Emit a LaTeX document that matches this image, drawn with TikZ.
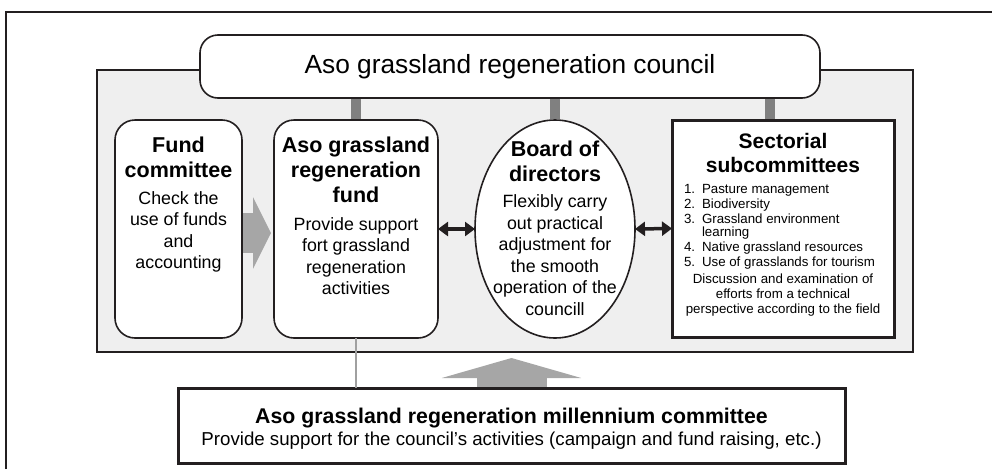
\documentclass[tikz,border=0pt]{standalone}
\usepackage{fontspec}
\setmainfont{Liberation Sans}
\usetikzlibrary{arrows.meta, positioning, shapes.geometric}
\definecolor{panelgray}{HTML}{EFEFEF}
\definecolor{bargray}{HTML}{808080}
\definecolor{arrowgray}{HTML}{A6A6A6}
\definecolor{thingray}{HTML}{A0A0A0}
\definecolor{darkline}{HTML}{231F20}

\begin{document}
\begin{tikzpicture}[
      x=1pt, y=-1pt,
      >={Triangle[length=10pt, width=14pt]},
      every node/.append style={inner sep=0pt, outer sep=0pt},
      panel/.style={rectangle, draw=darkline, line width=2.5pt, fill=panelgray},
      rbox/.style={rectangle, rounded corners=20pt, draw=darkline, line width=1.6pt,
                   fill=white},
      sbox/.style={rectangle, draw=darkline, line width=3pt, fill=white},
      oval/.style={ellipse, draw=darkline, line width=1.6pt, fill=white},
      head/.style={font=\fontsize{21.5}{25}\selectfont\bfseries, align=center},
      body/.style={font=\fontsize{17.8}{21.5}\selectfont, align=center},
      small/.style={font=\fontsize{13.3}{15}\selectfont},
      bar/.style={draw=bargray, line width=10pt, shorten <=0.8pt, shorten >=0.8pt},
    ]
      \useasboundingbox (0,0) rectangle (992,469);
      \draw[darkline, line width=1.3pt] (6,469) -- (6,12) -- (992,12);

      % grey panel and council on top
      \node[panel, minimum width=816pt, minimum height=282pt] (panel) at (505,211) {};
      \node[rbox, rounded corners=18pt, minimum width=620pt, minimum height=63pt,
            font=\fontsize{26.3}{30}\selectfont] (council) at (510,66.5)
            {Aso grassland regeneration council};

      % the four bodies
      \node[rbox, minimum width=127pt, minimum height=218pt] (fc) at (178.5,229) {};
      \node[rbox, minimum width=164pt, minimum height=218pt] (fund) at (356,229) {};
      \node[oval, minimum width=160pt, minimum height=218pt] (board) at (555,229) {};
      \node[sbox, minimum width=222pt, minimum height=217pt] (sect) at (783,228.5) {};

      \node[head, below=16.5pt of fc.north] (fctitle) {Fund\\committee};
      \node[body, below=14pt of fctitle] (fctext) {Check the\\use of funds\\and\\accounting};

      \node[head, below=16.5pt of fund.north] (fundtitle) {Aso grassland\\regeneration\\fund};
      \node[body, below=15pt of fundtitle] (fundtext)
            {Provide support\\fort grassland\\regeneration\\activities};

      \node[head, below=21pt of board.north] (boardtitle) {Board of\\directors};
      \node[body, below=13pt of boardtitle] (boardtext)
            {Flexibly carry\\out practical\\adjustment for\\the smooth\\operation of the\\councill};

      \node[head, font=\fontsize{21}{24}\selectfont\bfseries, below=13pt of sect.north]
            (secttitle) {Sectorial\\subcommittees};
      \node[small, align=left, anchor=north west] (sectlist)
            at ([xshift=12pt, yshift=-12pt]sect.west |- secttitle.south)
            {\makebox[18pt][l]{1.}Pasture management\\
             \makebox[18pt][l]{2.}Biodiversity\\
             \makebox[18pt][l]{3.}Grassland environment\\[-2pt]
             \hspace*{18pt}learning\\
             \makebox[18pt][l]{4.}Native grassland resources\\
             \makebox[18pt][l]{5.}Use of grasslands for tourism};
      \node[small, align=center, anchor=north] (sectnote)
            at ([yshift=-5pt]sectlist.south -| sect.center)
            {Discussion and examination of\\efforts from a technical\\perspective according to the field};

      % millennium committee
      \node[sbox, minimum width=667pt, minimum height=75pt] (mill) at (511.5,425.5) {};
      \node[align=center, font=\fontsize{18.7}{22}\selectfont] (milltext)
            at ([yshift=-2.8pt]mill.center)
            {{\fontsize{21.3}{22}\selectfont\bfseries Aso grassland regeneration millennium committee}\\
             {\fontsize{18.7}{22}\selectfont Provide support for the council’s activities (campaign and fund raising, etc.)}};

      % links
      \draw[bar] (fund.north |- council.south) -- (fund.north);
      \draw[bar] (board.north |- council.south) -- (board.north);
      \draw[bar] ([xshift=-13pt]sect.north |- council.south) -- ([xshift=-13pt]sect.north);
      \draw[<->, darkline, line width=3.5pt] (fund.east) -- (board.west);
      \draw[<->, darkline, line width=3.5pt] (board.east) -- (sect.west);
      \draw[arrowgray, line width=40pt, -{Triangle[length=18pt, width=71pt]},
            shorten <=0.8pt, shorten >=3pt] ([yshift=-4pt]fc.east) -- ([yshift=-4pt]fund.west);
      \draw[thingray, line width=2pt] (fund.south) -- (fund.south |- mill.north);
      \draw[arrowgray, line width=70pt, -{Triangle[length=20pt, width=139pt]},
            shorten <=1.5pt, shorten >=6pt] (mill.north) -- (mill.north |- panel.south);
    \end{tikzpicture}
\end{document}
